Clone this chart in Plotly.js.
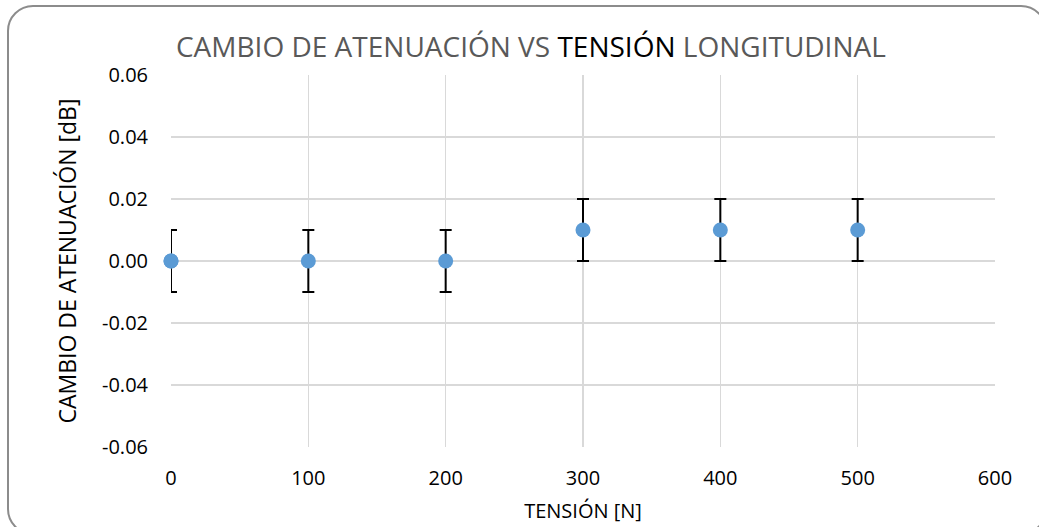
<!DOCTYPE html>
<html>
<head>
<meta charset="utf-8">
<script src="https://cdn.plot.ly/plotly-3.0.1.min.js"></script>
<style>
html,body{margin:0;padding:0;background:#fff;overflow:hidden;}
#wrap{position:relative;width:1039px;height:527px;overflow:hidden;}
#chart{position:absolute;left:0;top:0;width:1039px;height:527px;}
#frame{position:absolute;left:7px;top:5px;width:1040px;height:530px;border:2px solid #8c8c8c;border-radius:26px;pointer-events:none;box-sizing:border-box;}
</style>
</head>
<body>
<div id="wrap">
<div id="chart"></div>
<div id="frame"></div>
</div>
<script>
const tension = [0, 100, 200, 300, 400, 500, 0];
const cambioAtenuacion = [0, 0, 0, 0.01, 0.01, 0.01, 0];
const errorAtenuacion = [0.01, 0.01, 0.01, 0.01, 0.01, 0.01, 0.01];
const yTickVals = [-0.06, -0.04, -0.02, 0, 0.02, 0.04, 0.06];
const xTickVals = [0, 100, 200, 300, 400, 500, 600];

const font = "Open Sans, Liberation Sans, sans-serif";

const trace = {
  x: tension,
  y: cambioAtenuacion,
  type: 'scatter',
  mode: 'markers',
  cliponaxis: false,
  marker: {color: '#5B9BD5', size: 15},
  error_y: {type: 'data', array: errorAtenuacion, visible: true, color: '#000000', thickness: 2, width: 6},
  showlegend: false,
  hoverinfo: 'x+y'
};

const layout = {
  width: 1039,
  height: 527,
  margin: {l: 171, r: 44, t: 75, b: 80},
  paper_bgcolor: 'rgba(0,0,0,0)',
  plot_bgcolor: '#ffffff',
  font: {family: font, color: '#000000', size: 20},
  title: {
    text: "CAMBIO DE ATENUACIÓN VS <span style='color:#000000'>TENSIÓN</span> LONGITUDINAL",
    font: {family: font, size: 28, color: '#595959'},
    xref: 'container', yref: 'container',
    x: 0.511, xanchor: 'center',
    y: 0.911, yanchor: 'middle'
  },
  xaxis: {
    range: [0, 600],
    tickvals: xTickVals,
    ticktext: xTickVals.map(String),
    showgrid: true, gridcolor: '#d9d9d9', gridwidth: 1.5,
    zeroline: false, showline: false, ticks: '',
    ticklabelstandoff: 17,
    tickfont: {family: font, size: 20, color: '#000000'},
    title: {text: 'TENSIÓN [N]', font: {family: font, size: 20, color: '#000000'}, standoff: 13},
    automargin: false
  },
  yaxis: {
    range: [-0.06, 0.06],
    tickvals: yTickVals,
    ticktext: yTickVals.map(v => v.toFixed(2)),
    showgrid: true, gridcolor: '#d9d9d9', gridwidth: 1.5,
    zeroline: false, showline: false, ticks: '',
    ticklabelstandoff: 22,
    tickfont: {family: font, size: 20, color: '#000000'},
    title: {text: 'CAMBIO DE ATENUACIÓN [dB]', font: {family: font, size: 23, color: '#000000'}, standoff: 18},
    automargin: false
  }
};

Plotly.newPlot('chart', [trace], layout, {displayModeBar: false, staticPlot: true});
</script>
</body>
</html>
